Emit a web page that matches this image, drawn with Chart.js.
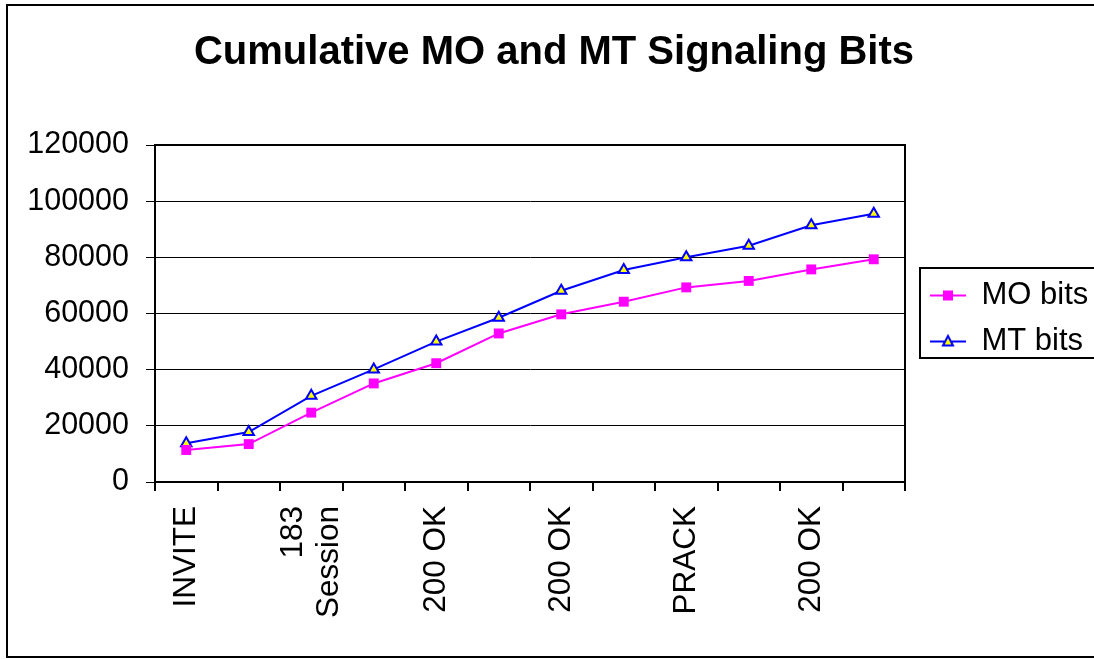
<!DOCTYPE html>
<html>
<head>
<meta charset="utf-8">
<title>Cumulative MO and MT Signaling Bits</title>
<script src="https://cdn.jsdelivr.net/npm/chart.js@4/dist/chart.umd.min.js"></script>
<style>
  html, body { margin: 0; padding: 0; background: #fff; overflow: hidden; }
  #wrap { width: 1094px; height: 659px; overflow: hidden; }
  canvas { display: block; }
</style>
</head>
<body>
<div id="wrap"><canvas id="chart" width="1094" height="659"></canvas></div>
<script>
// SIP message sequence (only every other label is printed on the axis)
const categories = ['INVITE', '', ['183', 'Session'], '', '200 OK', '', '200 OK', '', 'PRACK', '', '200 OK', ''];

// Cumulative signaling bits per side
const moBits = [11400, 13500, 24700, 35100, 42300, 52900, 59700, 64200, 69300, 71600, 75700, 79300];
const mtBits = [13800, 17800, 30700, 40100, 50000, 58500, 68100, 75500, 80000, 84100, 91400, 95500];

const seriesNames = ['MO bits', 'MT bits'];
const yTicks = { min: 0, max: 120000, step: 20000 };

const FONT = '"Liberation Sans", Arial, Helvetica, sans-serif';
Chart.defaults.font.family = FONT;
Chart.defaults.color = '#000';

// Legend sample: a short line with the series marker in its middle
function legendIcon(lineColor, drawMarker) {
  const c = document.createElement('canvas');
  c.width = 46; c.height = 16;
  const g = c.getContext('2d');
  g.strokeStyle = lineColor;
  g.lineWidth = 2;
  g.beginPath(); g.moveTo(10, 8); g.lineTo(46, 8); g.stroke();
  drawMarker(g, 28, 8);
  return c;
}
const moIcon = legendIcon('#FF00FF', (g, x, y) => {
  g.fillStyle = '#FF00FF';
  g.fillRect(x - 5, y - 5, 10, 10);
});
const mtIcon = legendIcon('#0000FF', (g, x, y) => {
  g.beginPath();
  g.moveTo(x, y - 5.5); g.lineTo(x + 5, y + 4); g.lineTo(x - 5, y + 4); g.closePath();
  g.fillStyle = '#FFFF00'; g.fill();
  g.strokeStyle = '#0000FF'; g.lineWidth = 2; g.stroke();
});
const icons = [moIcon, mtIcon];

// Center multi-line category labels on their tick instead of hanging them to the right
const centerMultiLineLabels = {
  id: 'centerMultiLineLabels',
  beforeDraw(chart) {
    const scale = chart.scales.x;
    const items = scale.getLabelItems();
    items.forEach((item) => {
      if (Array.isArray(item.label) && item.label.length > 1 && !item._centered) {
        const lh = item.font.lineHeight;
        item.options.translation[0] -= (item.label.length - 1) * lh / 2;
        item._centered = true;
      }
    });
  }
};

// Frame around the whole chart (open on the right), the plot area and the legend
const framePlugin = {
  id: 'frames',
  afterDraw(chart) {
    const ctx = chart.ctx;
    const a = chart.chartArea;
    const W = chart.width;
    ctx.save();
    ctx.strokeStyle = '#000';
    ctx.lineWidth = 2;
    ctx.strokeRect(a.left, a.top, a.right - a.left, a.bottom - a.top);
    ctx.beginPath();
    ctx.moveTo(W, 5); ctx.lineTo(7, 5); ctx.lineTo(7, 657); ctx.lineTo(W, 657);
    ctx.stroke();
    const hb = chart.legend.legendHitBoxes;
    if (hb && hb.length) {
      const first = hb[0], last = hb[hb.length - 1];
      const top = Math.round(first.top - 12.5);
      const bottom = Math.round(last.top + last.height + 0.5);
      ctx.beginPath();
      ctx.moveTo(W, top); ctx.lineTo(first.left, top);
      ctx.lineTo(first.left, bottom); ctx.lineTo(W, bottom);
      ctx.stroke();
    }
    ctx.restore();
  }
};

new Chart(document.getElementById('chart'), {
  type: 'line',
  data: {
    labels: categories,
    datasets: [
      {
        label: seriesNames[0],
        data: moBits,
        borderColor: '#FF00FF',
        backgroundColor: '#FF00FF',
        borderWidth: 2,
        pointStyle: 'rect',
        pointRadius: 7,
        pointBorderWidth: 0,
        pointBackgroundColor: '#FF00FF',
        pointBorderColor: '#FF00FF',
        tension: 0
      },
      {
        label: seriesNames[1],
        data: mtBits,
        borderColor: '#0000FF',
        backgroundColor: '#FFFF00',
        borderWidth: 2,
        pointStyle: 'triangle',
        pointRadius: 6,
        pointBorderWidth: 2,
        pointBackgroundColor: '#FFFF00',
        pointBorderColor: '#0000FF',
        tension: 0
      }
    ]
  },
  options: {
    responsive: false,
    animation: false,
    devicePixelRatio: 1,
    layout: { padding: { left: 14, right: 0, top: 0, bottom: 0 } },
    plugins: {
      title: {
        display: true,
        text: 'Cumulative MO and MT Signaling Bits',
        color: '#000',
        font: { family: FONT, size: 40, weight: 'bold', lineHeight: 1.2 },
        padding: { top: 29, bottom: 68 }
      },
      legend: {
        display: true,
        position: 'right',
        fullSize: false,
        align: 'center',
        maxWidth: 189,
        title: { display: true, text: '', padding: 0, font: { size: 10, lineHeight: 1 } },
        labels: {
          usePointStyle: true,
          pointStyleWidth: 46,
          padding: 15,
          color: '#000',
          font: { family: FONT, size: 31 },
          generateLabels(chart) {
            const items = Chart.defaults.plugins.legend.labels.generateLabels(chart);
            items.forEach((it, i) => { it.pointStyle = icons[i]; });
            return items;
          }
        }
      },
      tooltip: { enabled: false }
    },
    scales: {
      x: {
        type: 'category',
        offset: true,
        grid: {
          offset: true,
          drawOnChartArea: false,
          drawTicks: true,
          tickLength: 9,
          color: '#000',
          lineWidth: 2
        },
        border: { display: true, color: '#000', width: 2 },
        ticks: {
          autoSkip: false,
          maxRotation: 90,
          minRotation: 90,
          padding: 15,
          color: '#000',
          font: { family: FONT, size: 31.5, lineHeight: 1.15 }
        },
        afterFit(scale) { scale.height = 177; }
      },
      y: {
        min: yTicks.min,
        max: yTicks.max,
        grid: {
          color: '#000',
          lineWidth: 1,
          tickLength: 9,
          drawTicks: true
        },
        border: { display: true, color: '#000', width: 2 },
        ticks: {
          stepSize: yTicks.step,
          padding: 17,
          color: '#000',
          font: { family: FONT, size: 30.5 },
          callback: (v) => String(v)
        },
        afterFit(scale) { scale.width = 141; }
      }
    }
  },
  plugins: [centerMultiLineLabels, framePlugin]
});
</script>
</body>
</html>
